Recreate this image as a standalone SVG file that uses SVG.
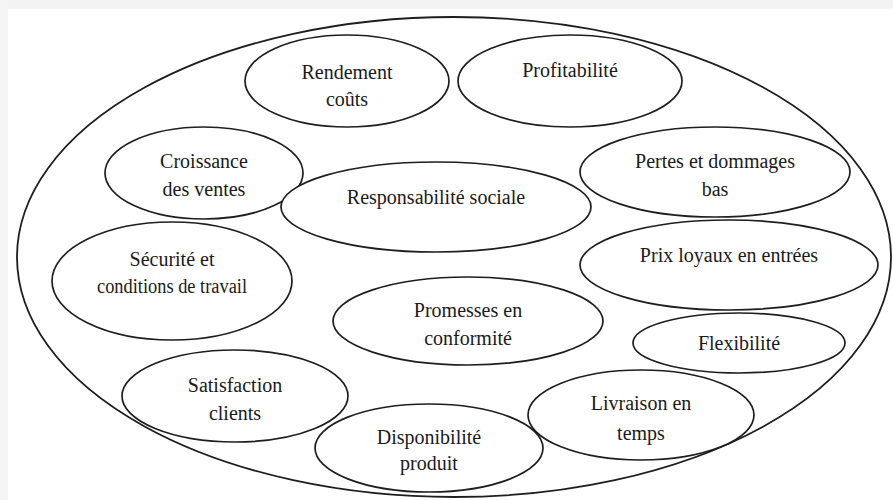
<svg xmlns="http://www.w3.org/2000/svg" width="893" height="500" viewBox="0 0 893 500">
<style>
.o{fill:none;stroke:#1e1e1e;stroke-width:1.8}
.n{fill:#fff;stroke:#1e1e1e;stroke-width:1.7}
text{font-family:'Liberation Serif','Times New Roman','DejaVu Serif',serif;font-size:20px;fill:#1a1a1a;text-anchor:middle;dominant-baseline:central}
</style>
<rect width="893" height="500" fill="#fff"/>
<rect x="0" y="0" width="893" height="9" fill="#f3f3f3"/>
<rect x="0" y="0" width="8" height="500" fill="#f5f5f5"/>
<g id="outer"><ellipse class="o" cx="454" cy="257" rx="437" ry="240"/></g>
<g id="connectors"></g>
<g id="rendement"><ellipse class="n" cx="347" cy="81" rx="102" ry="46"/><text x="347" y="72">Rendement</text><text x="347" y="99">coûts</text></g>
<g id="profitabilite"><ellipse class="n" cx="570" cy="81" rx="112" ry="46"/><text x="570" y="70">Profitabilité</text></g>
<g id="croissance"><ellipse class="n" cx="204" cy="173" rx="99" ry="46"/><text x="204" y="161">Croissance</text><text x="204" y="189">des ventes</text></g>
<g id="pertes"><ellipse class="n" cx="715" cy="172" rx="135" ry="45"/><text x="715" y="161">Pertes et dommages</text><text x="715" y="189">bas</text></g>
<g id="responsabilite"><ellipse class="n" cx="436" cy="207" rx="155" ry="45"/><text x="436" y="197">Responsabilité sociale</text></g>
<g id="securite"><ellipse class="n" cx="172" cy="281" rx="120" ry="59"/><text x="172" y="259">Sécurité et</text><text x="172" y="286" textLength="150" lengthAdjust="spacingAndGlyphs">conditions de travail</text></g>
<g id="prix"><ellipse class="n" cx="729" cy="265" rx="149" ry="45"/><text x="729" y="255">Prix loyaux en entrées</text></g>
<g id="promesses"><ellipse class="n" cx="468" cy="321" rx="135" ry="44"/><text x="468" y="310">Promesses en</text><text x="468" y="338">conformité</text></g>
<g id="flexibilite"><ellipse class="n" cx="739" cy="343" rx="106" ry="30"/><text x="739" y="343">Flexibilité</text></g>
<g id="satisfaction"><ellipse class="n" cx="235" cy="396" rx="113" ry="46"/><text x="235" y="385">Satisfaction</text><text x="235" y="413">clients</text></g>
<g id="disponibilite"><ellipse class="n" cx="429" cy="448" rx="114" ry="44"/><text x="429" y="437">Disponibilité</text><text x="429" y="463">produit</text></g>
<g id="livraison"><ellipse class="n" cx="641" cy="415" rx="113" ry="45"/><text x="641" y="403">Livraison en</text><text x="641" y="433">temps</text></g>
</svg>
